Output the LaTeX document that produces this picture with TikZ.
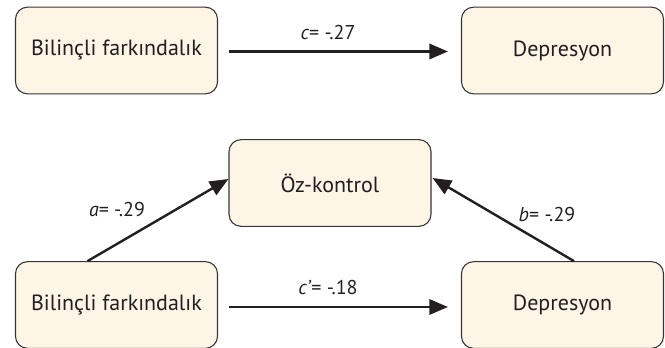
\documentclass[tikz,border=0pt]{standalone}
\usepackage{fontspec}
\setmainfont{PT Sans}
\usetikzlibrary{arrows.meta,calc}

\definecolor{boxfill}{RGB}{253,245,230}
\definecolor{boxline}{RGB}{55,52,53}
\definecolor{txtgray}{RGB}{35,31,32}

\tikzset{every picture/.style={line width=0.75pt}}
\tikzset{
  varbox/.style={draw=boxline, fill=boxfill, rounded corners=9pt, line width=0.8pt,
    minimum width=151.5pt, minimum height=65pt, text=txtgray,
    font=\fontsize{16.5}{19}\selectfont},
  patharrow/.style={draw=txtgray, line width=1.8pt, -{Triangle[length=14pt,width=11.5pt]}},
  coeflabel/.style={text=txtgray, inner sep=0.75pt, font=\fontsize{15}{18}\selectfont}
}

\begin{document}
\begin{tikzpicture}[x=0.75pt,y=0.75pt,yscale=-1,xscale=1]
\useasboundingbox (0,0) rectangle (665,348);

%Shape: Rounded Rect [id:bf1] 
\draw (116.5,50.5) node [varbox] (bf1) {Bilinçli farkındalık};
%Shape: Rounded Rect [id:dep1] 
\draw (562.5,50.5) node [varbox] (dep1) {Depresyon};
%Shape: Rounded Rect [id:oz] 
\draw (330,183) node [varbox] (oz) {Öz-kontrol};
%Shape: Rounded Rect [id:bf2] 
\draw (116.5,305) node [varbox] (bf2) {Bilinçli farkındalık};
%Shape: Rounded Rect [id:dep2] 
\draw (562.5,305) node [varbox] (dep2) {Depresyon};

%Straight Lines [id:c] 
\draw [patharrow] ($(bf1.east)+(11,1)$) -- ($(dep1.west)+(-13,1)$) ;
%Straight Lines [id:cprime] 
\draw [patharrow] ($(bf2.east)+(11,2)$) -- ($(dep2.west)+(-13,2)$) ;
%Straight Lines [id:a] 
\draw [patharrow] ($(bf2.north)+(-29,0)$) -- ($(oz.west)+(0,-4)$) ;
%Straight Lines [id:b] 
\draw [patharrow] ($(dep2.north)+(11.5,0)$) -- ($(oz.east)+(1,-5)$) ;

% Text Node
\draw (328,33) node [coeflabel] (lc) {\textit{c}= -.27};
% Text Node
\draw (328,288) node [coeflabel] (lcp) {\textit{c’}= -.18};
% Text Node
\draw (117,210) node [coeflabel] (la) {\textit{a}= -.29};
% Text Node
\draw (547,215) node [coeflabel] (lb) {\textit{b}= -.29};
\end{tikzpicture}
\end{document}
